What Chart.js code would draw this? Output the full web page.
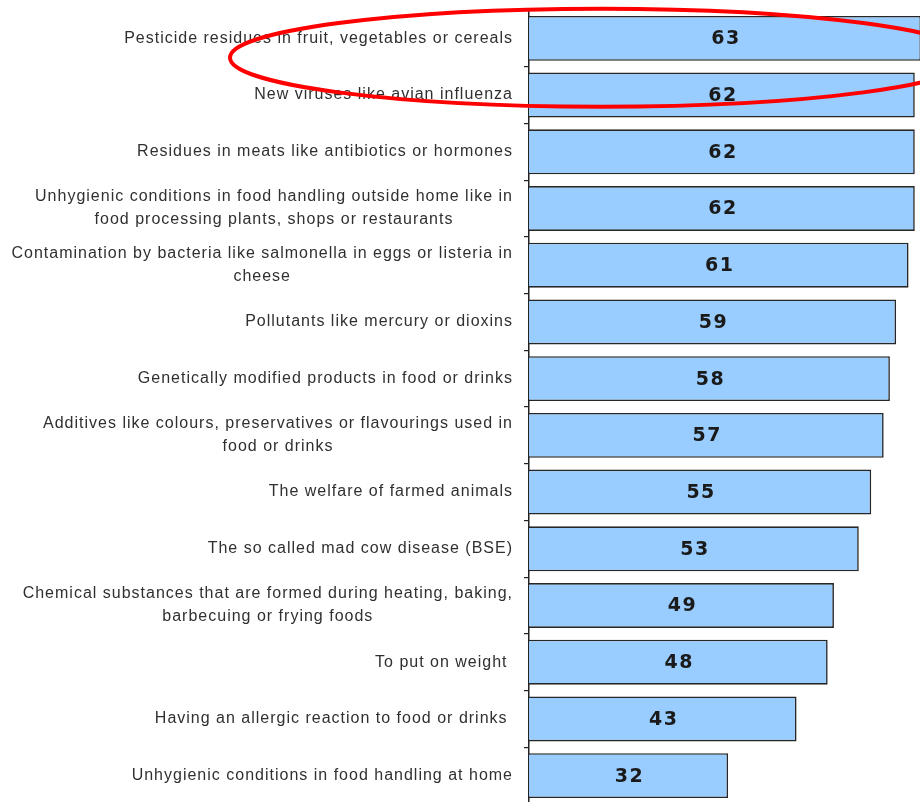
<!DOCTYPE html>
<html lang="en">
<head>
    <meta charset="UTF-8">
    <title>Food risk concerns</title>
    <script src="https://cdn.jsdelivr.net/npm/chart.js"></script>
    <style>
        html, body {
            margin: 0;
            padding: 0;
            background: #ffffff;
            overflow: hidden;
        }
        #wrap {
            position: absolute;
            left: 0;
            top: 0;
        }
    </style>
</head>
<body>

<div id="wrap">
    <canvas id="riskChart" width="924" height="806"></canvas>
</div>

<script>
    // categories (multi-line ones are arrays)
    const categories = [
        ['Pesticide residues in fruit, vegetables or cereals'],
        ['New viruses like avian influenza'],
        ['Residues in meats like antibiotics or hormones'],
        ['Unhygienic conditions in food handling outside home like in', 'food processing plants, shops or restaurants'],
        ['Contamination by bacteria like salmonella in eggs or listeria in', 'cheese'],
        ['Pollutants like mercury or dioxins'],
        ['Genetically modified products in food or drinks'],
        ['Additives like colours, preservatives or flavourings used in', 'food or drinks'],
        ['The welfare of farmed animals'],
        ['The so called mad cow disease (BSE)'],
        ['Chemical substances that are formed during heating, baking,', 'barbecuing or frying foods'],
        ['To put on weight '],
        ['Having an allergic reaction to food or drinks '],
        ['Unhygienic conditions in food handling at home']
    ];
    const worried = [63, 62, 62, 62, 61, 59, 58, 57, 55, 53, 49, 48, 43, 32];
    const axisMax = 63;

    // left-side category text, each block right-aligned, lines centred inside the block
    const categoryText = {
        id: 'categoryText',
        afterDraw(chart) {
            const ctx = chart.ctx;
            const yScale = chart.scales.y;
            const right = chart.chartArea.left - 16;
            ctx.save();
            ctx.font = '16px "Liberation Sans", Arial, sans-serif';
            ctx.letterSpacing = '1px';
            ctx.fillStyle = '#303030';
            ctx.textAlign = 'center';
            ctx.textBaseline = 'middle';
            categories.forEach((lines, i) => {
                const y = yScale.getPixelForValue(i);
                const w = Math.max(...lines.map(l => ctx.measureText(l).width));
                lines.forEach((line, j) => {
                    const dy = (j - (lines.length - 1) / 2) * 23;
                    ctx.fillText(line, right - w / 2, y + dy);
                });
            });
            ctx.restore();
        }
    };

    // value printed in the middle of each bar
    const barValues = {
        id: 'barValues',
        afterDatasetsDraw(chart) {
            const ctx = chart.ctx;
            const meta = chart.getDatasetMeta(0);
            ctx.save();
            ctx.font = 'bold 19px "DejaVu Sans", Verdana, sans-serif';
            ctx.letterSpacing = '1.5px';
            ctx.fillStyle = '#1a1a1a';
            ctx.textAlign = 'center';
            ctx.textBaseline = 'middle';
            meta.data.forEach((bar, i) => {
                const x = (bar.base + Math.min(bar.x, chart.chartArea.right)) / 2;
                ctx.fillText(String(worried[i]), x + 1, bar.y + 1);
            });
            ctx.restore();
        }
    };

    // red ring drawn round the first two rows
    const highlight = {
        id: 'highlight',
        afterDraw(chart) {
            const ctx = chart.ctx;
            const yScale = chart.scales.y;
            const cy = (yScale.getPixelForValue(0) + yScale.getPixelForValue(1)) / 2 - 9;
            const cx = chart.chartArea.left + 72;
            ctx.save();
            ctx.strokeStyle = '#ff0000';
            ctx.lineWidth = 4;
            ctx.beginPath();
            ctx.ellipse(cx, cy, 371, 49, 0, 0, Math.PI * 2);
            ctx.stroke();
            ctx.restore();
        }
    };

    const ctx = document.getElementById('riskChart').getContext('2d');
    new Chart(ctx, {
        type: 'bar',
        data: {
            labels: categories,
            datasets: [{
                data: worried,
                backgroundColor: '#99ccff',
                borderColor: '#262626',
                borderWidth: 1.6,
                borderSkipped: 'start',
                barPercentage: 0.88,
                categoryPercentage: 0.9
            }]
        },
        options: {
            indexAxis: 'y',
            responsive: false,
            animation: false,
            layout: {
                padding: { top: 10, right: 3, bottom: 2, left: 0 }
            },
            plugins: {
                legend: { display: false },
                tooltip: { enabled: false }
            },
            scales: {
                x: {
                    display: false,
                    min: 0,
                    max: axisMax
                },
                y: {
                    ticks: { display: false },
                    grid: {
                        drawOnChartArea: false,
                        drawTicks: true,
                        tickLength: 5,
                        color: '#222222',
                        lineWidth: 1.2
                    },
                    border: {
                        display: true,
                        color: '#222222',
                        width: 1.5
                    },
                    afterFit(scale) {
                        scale.width = 529;
                    }
                }
            }
        },
        plugins: [categoryText, barValues, highlight]
    });
</script>

</body>
</html>
